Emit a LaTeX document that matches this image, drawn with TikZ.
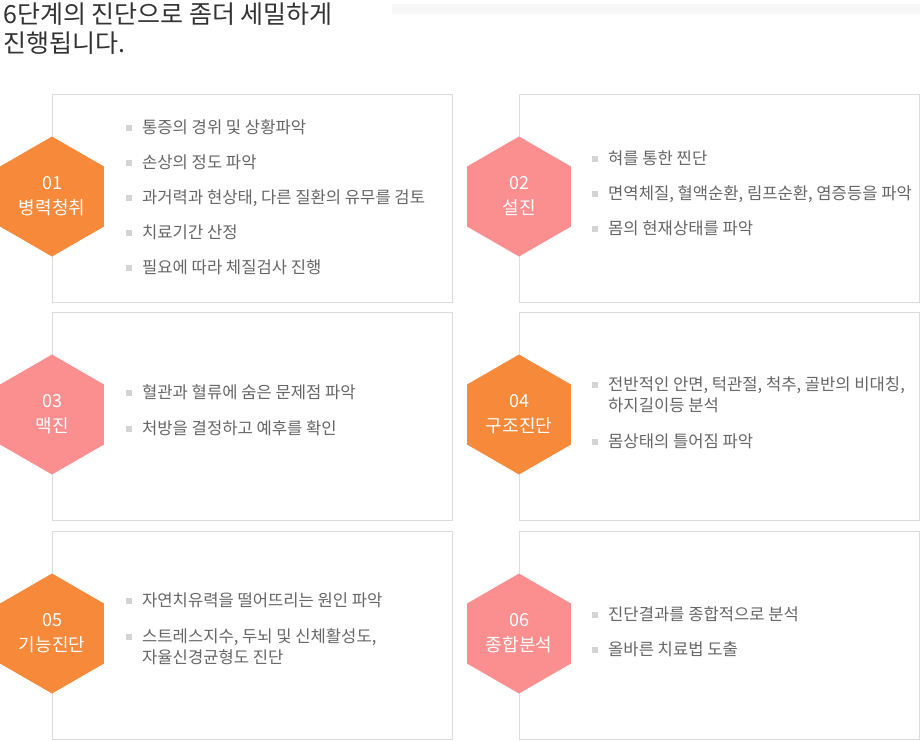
\documentclass[tikz,border=0pt]{standalone}
\usepackage{fontspec}
\setmainfont{Noto Sans CJK KR}
\usetikzlibrary{shapes.geometric}
\definecolor{hexorange}{HTML}{F6893A}
\definecolor{hexpink}{HTML}{FB8F8F}
\definecolor{boxline}{HTML}{DCDCDC}
\definecolor{bulletgray}{HTML}{D4D4D4}
\definecolor{itemgray}{HTML}{666666}
\definecolor{titlegray}{HTML}{333333}
\definecolor{bargray}{HTML}{F7F7F7}
\tikzset{
  panel/.style={draw=boxline, line width=1pt, minimum width=400pt, minimum height=208pt, inner sep=0pt, anchor=north west},
  hexa/.style={regular polygon, regular polygon sides=6, shape border rotate=30, minimum size=120pt, inner sep=0pt, text=white, align=center, font=\fontsize{18}{25}\selectfont},
  bulletsq/.style={fill=bulletgray, minimum size=6pt, inner sep=0pt, outer sep=0pt},
  itmc/.style={anchor=west, inner sep=0pt, text height=14pt, text depth=2.5pt, text=itemgray, font=\fontsize{16.6}{21}\selectfont},
  itm/.style={itmc, label={[bulletsq, label distance=10pt]left:{}}},
  titletxt/.style={anchor=west, inner sep=0pt, text=titlegray, font=\fontsize{25}{30}\selectfont}
}
\begin{document}
\begin{tikzpicture}[x=1pt,y=-1pt]
        \useasboundingbox (0,0) rectangle (920,740);
        \fill[bargray] (392,4) rectangle (920,14);
        \node[titletxt] (title1) at (3,14) {6단계의 진단으로 좀더 세밀하게};
        \node[titletxt] (title2) at (3,43) {진행됩니다.};

        \node[panel] (bx1) at (52,94) {};
        \node[panel] (bx2) at (519,94) {};
        \node[panel] (bx3) at (52,312) {};
        \node[panel] (bx4) at (519,312) {};
        \node[panel] (bx5) at (52,531) {};
        \node[panel] (bx6) at (519,531) {};

        \node[hexa, fill=hexorange] (hx1) at ([yshift=2pt]bx1.west) {01\\병력청취};
        \node[hexa, fill=hexpink] (hx2) at ([yshift=2pt]bx2.west) {02\\설진};
        \node[hexa, fill=hexpink] (hx3) at ([yshift=2pt]bx3.west) {03\\맥진};
        \node[hexa, fill=hexorange] (hx4) at ([yshift=2pt]bx4.west) {04\\구조진단};
        \node[hexa, fill=hexorange] (hx5) at ([yshift=2pt]bx5.west) {05\\기능진단};
        \node[hexa, fill=hexpink] (hx6) at ([yshift=2pt]bx6.west) {06\\종합분석};

        \node[itm] (i11) at (142,128) {통증의 경위 및 상황파악};
        \node[itm] (i12) at (142,163) {손상의 정도 파악};
        \node[itm] (i13) at (142,198) {과거력과 현상태, 다른 질환의 유무를 검토};
        \node[itm] (i14) at (142,233) {치료기간 산정};
        \node[itm] (i15) at (142,268) {필요에 따라 체질검사 진행};

        \node[itm] (i21) at (608,159) {혀를 통한 찐단};
        \node[itm] (i22) at (608,194) {면역체질, 혈액순환, 림프순환, 염증등을 파악};
        \node[itm] (i23) at (608,229) {몸의 현재상태를 파악};

        \node[itm] (i31) at (142,393) {혈관과 혈류에 숨은 문제점 파악};
        \node[itm] (i32) at (142,429) {처방을 결정하고 예후를 확인};

        \node[itm] (i41) at (608,385) {전반적인 안면, 턱관절, 척추, 골반의 비대칭,};
        \node[itmc] (i41b) at (608,406) {하지길이등 분석};
        \node[itm] (i42) at (608,442) {몸상태의 틀어짐 파악};

        \node[itm] (i51) at (142,601) {자연치유력을 떨어뜨리는 원인 파악};
        \node[itm] (i52) at (142,637) {스트레스지수, 두뇌 및 신체활성도,};
        \node[itmc] (i52b) at (142,658) {자율신경균형도 진단};

        \node[itm] (i61) at (608,615) {진단결과를 종합적으로 분석};
        \node[itm] (i62) at (608,650) {올바른 치료법 도출};
\end{tikzpicture}
\end{document}
